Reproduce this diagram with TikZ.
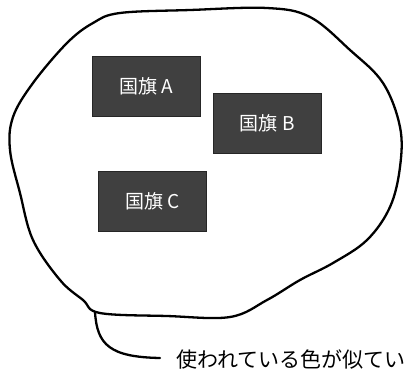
\documentclass[tikz,border=0pt]{standalone}
\usepackage{fontspec}
\setmainfont{Noto Sans CJK JP}
\newfontfamily\cjk{Noto Sans CJK JP}
\begin{document}
\begin{tikzpicture}[x=1pt,y=-1pt,
  flag/.style={draw=black!85,fill=black!75,text=white,minimum width=108pt,minimum height=60pt,inner sep=0pt,font=\cjk\fontsize{19}{19}\selectfont,anchor=north west},
  pen/.style={line width=2.3pt,line cap=round,line join=round}]
\useasboundingbox (0,0) rectangle (410,376);
\fill[white] (0,0) rectangle (410,376);
\draw[pen] plot[smooth cycle,tension=0.6] coordinates {
 (120,13) (190,10) (267,8) (310,17) (350,50) (383,83) (400,127) (400,167)
 (390,207) (367,240) (333,263) (300,280) (267,300) (230,317) (167,316)
 (100,313) (83,300) (60,280) (33,240) (20,193) (10,150) (13,117) (33,83)
 (67,43) (93,23)};
\coordinate (tailtop) at (95,312);
\coordinate (tailend) at (160,358);
\draw[pen] (tailtop) .. controls (97,345) and (110,357) .. (tailend);
\node[flag] (A) at (92,56) {国旗 A};
\node[flag] (B) at (213,93) {国旗 B};
\node[flag] (C) at (98,171) {国旗 C};
\node[anchor=west,inner sep=0pt,font=\cjk\fontsize{21}{21}\selectfont] (note) at (176,360) {使われている色が似てい};
\end{tikzpicture}
\end{document}
